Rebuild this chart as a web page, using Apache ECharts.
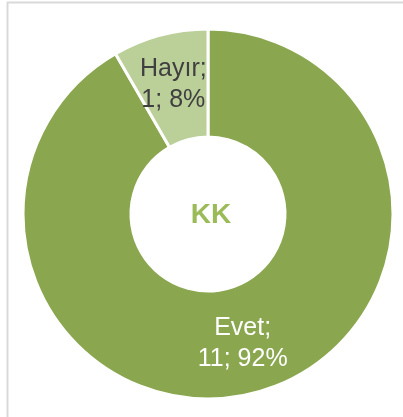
<!DOCTYPE html>
<html>
<head>
<meta charset="utf-8">
<script src="https://cdn.jsdelivr.net/npm/echarts@6/dist/echarts.min.js"></script>
<style>
html, body { margin: 0; padding: 0; background: #fff; }
#chart { width: 403px; height: 417px; }
</style>
</head>
<body>
<div id="chart"></div>
<script>
var names = ['Evet', 'Hayır'];
var counts = [11, 1];
var percents = [92, 8];
var colors = ['#8AA64F', '#BBCF99'];
var labelColors = ['#ffffff', '#404040'];

var chart = echarts.init(document.getElementById('chart'));

var data = names.map(function (n, i) {
    return {
        name: n,
        value: counts[i],
        itemStyle: { color: colors[i] },
        label: { color: labelColors[i] }
    };
});

var option = {
    animation: false,
    graphic: [
        { type: 'line', shape: { x1: 7.5, y1: 2, x2: 7.5, y2: 417 }, style: { stroke: '#D9D9D9', lineWidth: 2 } },
        { type: 'line', shape: { x1: 7, y1: 2.5, x2: 403, y2: 2.5 }, style: { stroke: '#D9D9D9', lineWidth: 2 } },
        {
            type: 'text', x: 211, y: 215,
            style: {
                text: 'KK', fill: '#9BBB59', font: 'bold 28px "Liberation Sans", Arial, sans-serif',
                textAlign: 'center', textVerticalAlign: 'middle'
            }
        }
    ],
    series: [{
        type: 'pie',
        center: [208, 214],
        radius: [77, 185],
        startAngle: 90,
        clockwise: true,
        itemStyle: { borderColor: '#ffffff', borderWidth: 3 },
        label: {
            position: 'inside',
            fontFamily: '"Liberation Sans", Arial, sans-serif',
            fontSize: 25,
            lineHeight: 31,
            align: 'center',
            formatter: function (p) {
                return p.name + ';\n' + p.value + '; ' + percents[p.dataIndex] + '%';
            }
        },
        labelLine: { show: false },
        emphasis: { disabled: true },
        data: data
    }]
};
chart.setOption(option);
</script>
</body>
</html>
